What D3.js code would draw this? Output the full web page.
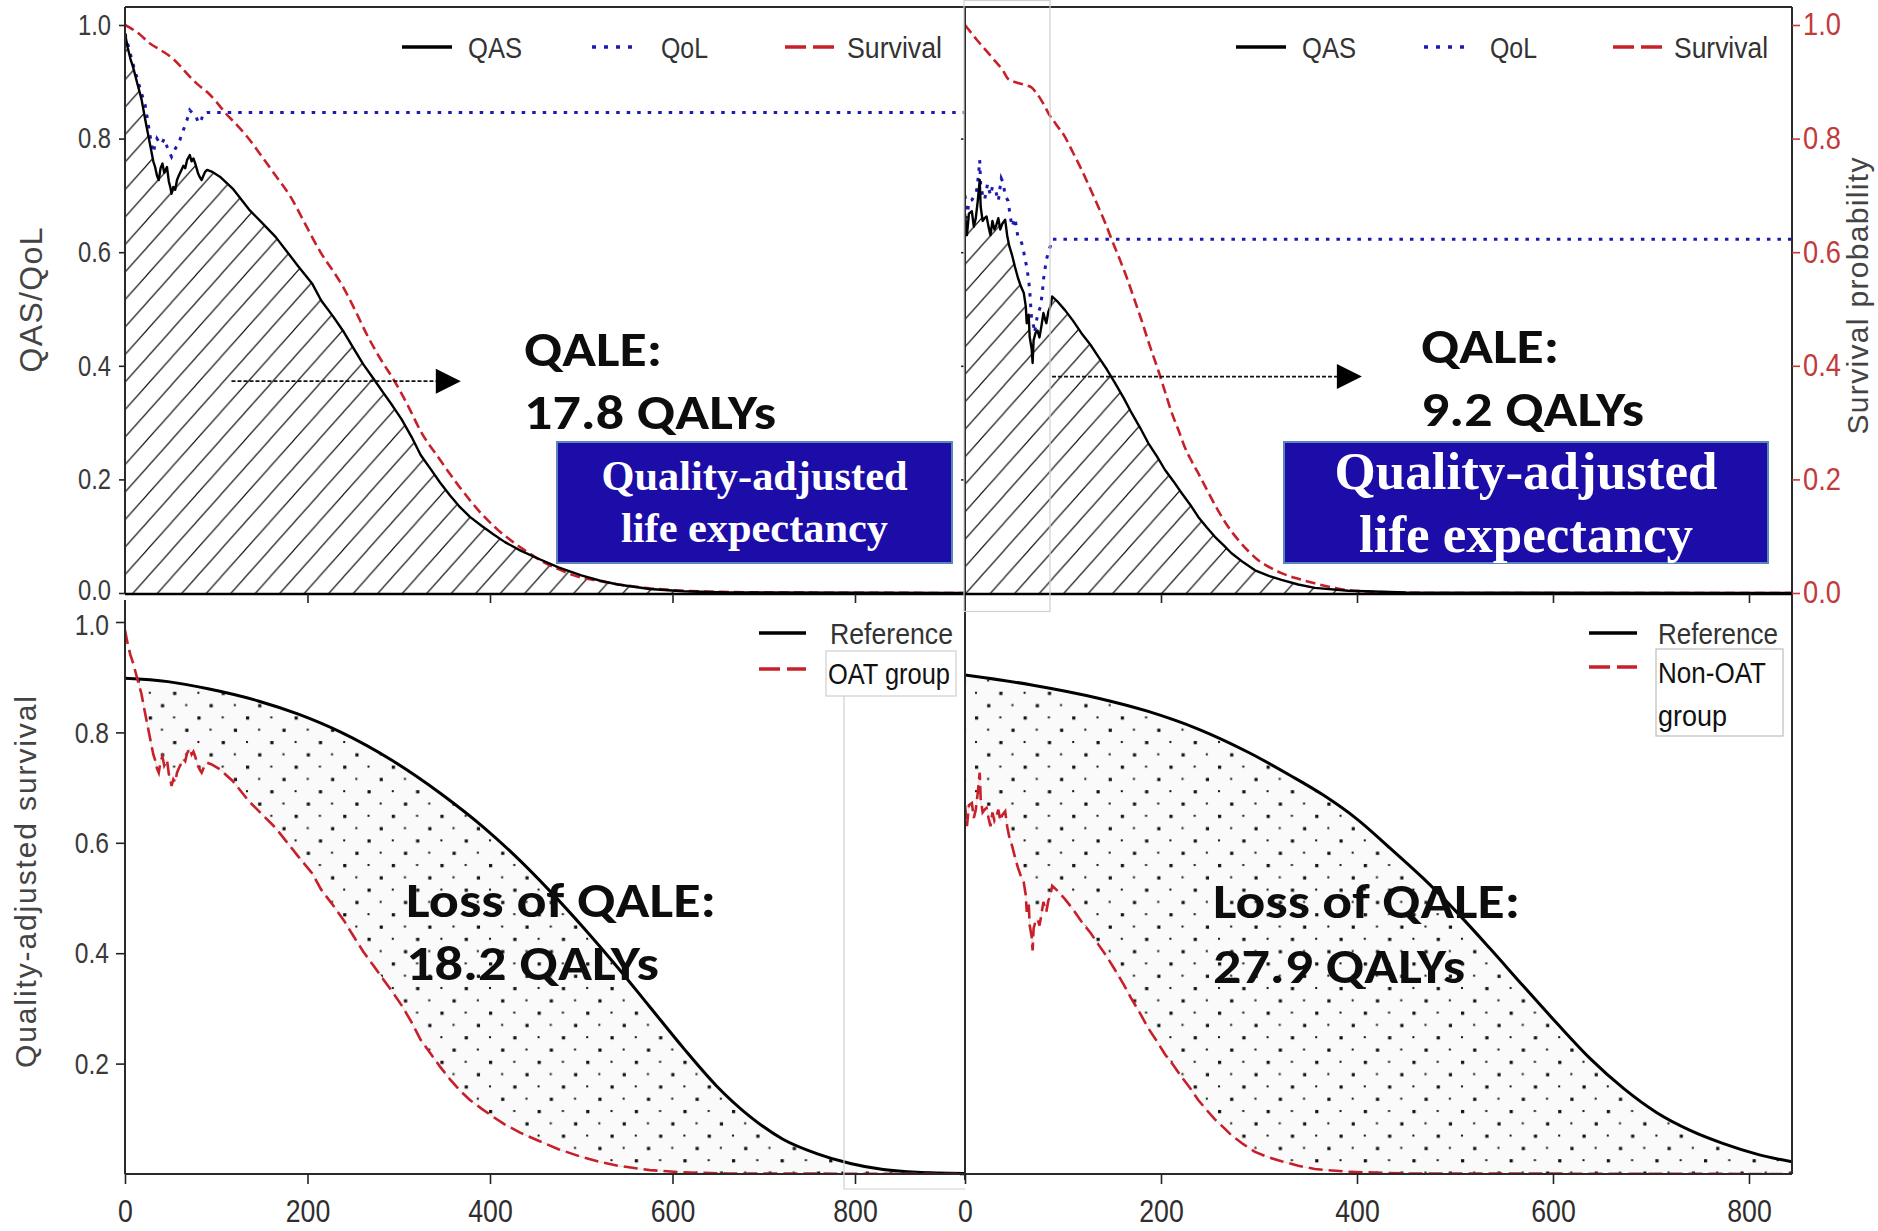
<!DOCTYPE html>
<html>
<head>
<meta charset="utf-8">
<script src="https://cdn.jsdelivr.net/npm/d3@7"></script>
<style>
  html, body { margin: 0; padding: 0; background: #fff; }
  svg { display: block; }
</style>
</head>
<body>
<svg id="chart" width="1878" height="1231"></svg>
<script>
// ---------- data: [time, value] ----------
// OAT group: quality-adjusted survival (QAS), quality of life (QoL), survival
const oatQAS = [[0,0.985],[3,0.96],[6,0.94],[9,0.925],[13,0.9],[18,0.87],[22,0.835],[25,0.81],[28,0.785],[31,0.76],[33,0.75],[35,0.735],[37,0.727],[39,0.748],[41,0.756],[43,0.74],[46,0.75],[48,0.725],[50,0.712],[51,0.703],[53,0.715],[55,0.71],[57,0.727],[59,0.735],[62,0.745],[64,0.752],[66,0.748],[68,0.762],[70,0.768],[71,0.771],[73,0.76],[75,0.765],[77,0.756],[79,0.745],[80,0.739],[82,0.732],[84,0.727],[86,0.735],[88,0.742],[90,0.745],[95,0.742],[104,0.733],[118,0.712],[136,0.675],[150,0.652],[165,0.627],[178,0.6],[190,0.575],[205,0.545],[215,0.515],[228,0.487],[240,0.459],[250,0.432],[261,0.403],[272,0.378],[282,0.355],[293,0.33],[303,0.306],[314,0.275],[324,0.243],[335,0.218],[345,0.195],[356,0.172],[366,0.153],[378,0.134],[391,0.118],[404,0.103],[416,0.09],[433,0.075],[450,0.0625],[475,0.045],[500,0.031],[520,0.022],[540,0.015],[575,0.007],[612,0.003],[660,0.001],[920,0]];
const oatQoL = [[0,0.985],[9,0.93],[18,0.88],[22,0.86],[25,0.83],[27,0.81],[29,0.79],[31,0.775],[33,0.79],[35,0.8],[37,0.795],[40,0.79],[43,0.8],[46,0.786],[49,0.775],[51,0.768],[53,0.775],[56,0.785],[60,0.797],[64,0.815],[68,0.833],[71,0.85],[74,0.845],[77,0.842],[80,0.83],[82,0.827],[84,0.835],[86,0.845],[90,0.846],[920,0.846]];
const oatSurvival = [[0,1],[15,0.985],[27,0.968],[40,0.955],[53,0.94],[62,0.925],[71,0.909],[80,0.895],[90,0.882],[100,0.865],[110,0.845],[122,0.825],[133,0.805],[148,0.773],[165,0.735],[182,0.696],[198,0.648],[215,0.598],[228,0.567],[240,0.536],[253,0.495],[266,0.452],[280,0.412],[295,0.374],[310,0.33],[324,0.285],[345,0.235],[366,0.188],[391,0.139],[408,0.112],[425,0.09],[442,0.071],[458,0.055],[475,0.042],[492,0.031],[520,0.021],[560,0.011],[600,0.005],[650,0.002],[700,0.001],[920,0]];

// Non-OAT group
const nonOatQAS = [[0,0.668],[2,0.63],[4,0.668],[7,0.672],[9,0.645],[11,0.66],[13,0.69],[15,0.727],[16,0.68],[18,0.655],[20,0.66],[22,0.663],[24,0.645],[26,0.63],[28,0.655],[30,0.64],[32,0.648],[34,0.66],[36,0.64],[38,0.65],[41,0.657],[43,0.63],[45,0.612],[48,0.595],[51,0.574],[54,0.555],[57,0.54],[60,0.528],[62,0.505],[63,0.475],[65,0.49],[66,0.451],[68,0.43],[69,0.405],[70,0.445],[72,0.458],[74,0.462],[76,0.45],[78,0.47],[80,0.493],[82,0.48],[83,0.475],[85,0.495],[87,0.504],[89,0.522],[95,0.512],[102,0.498],[110,0.48],[119,0.457],[128,0.437],[136,0.416],[145,0.393],[153,0.37],[162,0.343],[170,0.317],[179,0.29],[187,0.264],[196,0.24],[204,0.217],[213,0.196],[221,0.176],[230,0.155],[238,0.134],[247,0.115],[255,0.099],[264,0.084],[272,0.07],[284,0.054],[296,0.04],[310,0.03],[323,0.023],[340,0.015],[357,0.009],[391,0.004],[450,0.001],[844,0]];
const nonOatQoL = [[0,0.70],[2,0.66],[4,0.69],[7,0.692],[10,0.70],[12,0.71],[14,0.74],[15,0.762],[16,0.72],[18,0.70],[20,0.692],[23,0.72],[26,0.70],[28,0.715],[31,0.71],[34,0.69],[37,0.73],[39,0.722],[41,0.70],[44,0.69],[46,0.665],[48,0.645],[51,0.66],[54,0.627],[57,0.62],[59,0.61],[61,0.59],[63,0.574],[65,0.55],[66,0.533],[68,0.481],[70,0.47],[71,0.458],[74,0.49],[77,0.504],[79,0.53],[80,0.551],[83,0.586],[85,0.6],[87,0.61],[89,0.623],[844,0.623]];
const nonOatSurvival = [[0,1],[6,0.987],[12,0.974],[20,0.958],[29,0.94],[39,0.919],[44,0.905],[50,0.9],[56,0.897],[62,0.894],[68,0.89],[73,0.88],[77,0.87],[81,0.858],[85,0.845],[93,0.825],[102,0.803],[110,0.776],[119,0.745],[127,0.715],[136,0.68],[143,0.652],[150,0.621],[158,0.587],[166,0.551],[173,0.516],[180,0.481],[188,0.438],[197,0.393],[204,0.355],[211,0.317],[218,0.286],[224,0.258],[231,0.233],[238,0.211],[248,0.178],[258,0.146],[268,0.118],[279,0.093],[289,0.074],[299,0.058],[311,0.045],[323,0.035],[340,0.025],[357,0.017],[374,0.01],[391,0.005],[420,0.002],[480,0],[844,0]];

// Matched reference population, quality-adjusted survival
const refOAT = [[0,0.898],[47,0.892],[91,0.879],[146,0.857],[190,0.833],[237,0.8],[292,0.75],[347,0.688],[393,0.628],[429,0.574],[466,0.512],[502,0.447],[539,0.376],[575,0.303],[612,0.228],[648,0.16],[685,0.104],[721,0.063],[758,0.037],[795,0.019],[831,0.008],[868,0.003],[920,0.001]];
const refNonOAT = [[0,0.904],[68,0.886],[136,0.862],[187,0.838],[238,0.806],[289,0.764],[332,0.722],[366,0.686],[400,0.643],[434,0.59],[468,0.535],[502,0.474],[536,0.408],[570,0.34],[604,0.273],[638,0.209],[672,0.155],[706,0.111],[740,0.079],[774,0.055],[808,0.036],[844,0.022]];

// ticks and labels
const topYTicks = [0, 0.2, 0.4, 0.6, 0.8, 1.0];
const bottomYTicks = [0.2, 0.4, 0.6, 0.8, 1.0];
const xTicks = [0, 200, 400, 600, 800];
const qaleOAT = ["QALE:", "17.8 QALYs"];
const qaleNonOAT = ["QALE:", "9.2 QALYs"];
const lossOAT = ["Loss of QALE:", "18.2 QALYs"];
const lossNonOAT = ["Loss of QALE:", "27.9 QALYs"];
const boxText = ["Quality-adjusted", "life expectancy"];
const topLegend = ["QAS", "QoL", "Survival"];

// ---------- styling ----------
const RED = "#c8202a", BLUE = "#1b1bb0", AXIS_RED = "#c23b3b";
const SANS = "'Liberation Sans',Arial,sans-serif";
const BOLD = "Carlito,Lato,'Open Sans',sans-serif";
const SERIF = "'Liberation Serif','Times New Roman',serif";

const svg = d3.select("#chart");

// scales
const xL = d3.scaleLinear([0, 920], [125, 964.5]);
const xR = d3.scaleLinear([0, 844], [965, 1792.1]);
const yT = d3.scaleLinear([0, 1], [593, 25]);
const yB = d3.scaleLinear([0, 1], [1174, 622]);

// ---------- patterns ----------
const defs = svg.append("defs");
const hatch = defs.append("pattern").attr("id", "hatch")
  .attr("patternUnits", "userSpaceOnUse").attr("width", 24.5).attr("height", 27.5);
hatch.append("path")
  .attr("d", "M0,27.5 L24.5,0 M-4.9,5.5 L4.9,-5.5 M19.6,33 L29.4,22")
  .attr("stroke", "#111").attr("stroke-width", 1.15).attr("fill", "none");

const dots = defs.append("pattern").attr("id", "dots")
  .attr("patternUnits", "userSpaceOnUse").attr("width", 48.6).attr("height", 49.2);
dots.append("rect").attr("width", 48.6).attr("height", 49.2).attr("fill", "#fafafa");
[[0,0,2],[24.3,0,3.2],[12.15,12.3,3.2],[36.45,12.3,2],[0,24.6,3.2],[24.3,24.6,2],[12.15,36.9,2],[36.45,36.9,3.2]]
  .forEach(([x, y, s]) => dots.append("rect").attr("x", x + 3).attr("y", y + 3)
    .attr("width", s).attr("height", s).attr("fill", "#111"));

// clip regions for each panel
[["clipTL", 125, 7, 840, 588], ["clipTR", 965, 7, 827, 588],
 ["clipBL", 125, 600, 840, 575], ["clipBR", 965, 600, 827, 575]]
  .forEach(([id, x, y, w, h]) => defs.append("clipPath").attr("id", id)
    .append("rect").attr("x", x).attr("y", y).attr("width", w).attr("height", h));

// ---------- helpers ----------
const lineGen = (x, y, curve) => d3.line().x(d => x(d[0])).y(d => y(d[1])).curve(curve || d3.curveLinear);

function interp(arr, t) {
  if (t <= arr[0][0]) return arr[0][1];
  for (let i = 1; i < arr.length; i++) {
    if (t <= arr[i][0]) {
      const [t0, v0] = arr[i - 1], [t1, v1] = arr[i];
      return v0 + (v1 - v0) * (t - t0) / (t1 - t0);
    }
  }
  return arr[arr.length - 1][1];
}
function gapBand(ref, grp) {
  const ts = Array.from(new Set([...ref.map(d => d[0]), ...grp.map(d => d[0])])).sort((a, b) => a - b);
  return ts.map(t => { const r = interp(ref, t), g = interp(grp, t); return { t, hi: r, lo: Math.min(g, r) }; });
}

// squeeze text horizontally to a narrow face
function condense(sel, f) {
  sel.each(function () {
    const w = this.getComputedTextLength();
    d3.select(this).attr("textLength", w * f).attr("lengthAdjust", "spacingAndGlyphs");
  });
}
function styleAxis(g, size, color, tickColor, squeeze) {
  g.select(".domain").remove();
  g.selectAll(".tick line").attr("stroke", tickColor || "#222").attr("stroke-width", 1.6);
  const t = g.selectAll(".tick text").attr("font-family", SANS).attr("font-size", size).attr("fill", color);
  condense(t, squeeze || 0.82);
}

// ---------- top panels ----------
function topPanel(x, clip, qas, qol, surv) {
  const g = svg.append("g").attr("clip-path", `url(#${clip})`);
  g.append("path").datum(qas)
    .attr("d", d3.area().x(d => x(d[0])).y0(yT(0)).y1(d => yT(d[1])))
    .attr("fill", "url(#hatch)");
  g.append("path").datum(surv).attr("d", lineGen(x, yT, d3.curveMonotoneX))
    .attr("fill", "none").attr("stroke", RED).attr("stroke-width", 2.6).attr("stroke-dasharray", "10,5");
  g.append("path").datum(qol).attr("d", lineGen(x, yT))
    .attr("fill", "none").attr("stroke", BLUE).attr("stroke-width", 3).attr("stroke-dasharray", "3.5,7");
  g.append("path").datum(qas).attr("d", lineGen(x, yT))
    .attr("fill", "none").attr("stroke", "#000").attr("stroke-width", 2.4).attr("stroke-linejoin", "round");
}
topPanel(xL, "clipTL", oatQAS, oatQoL, oatSurvival);
topPanel(xR, "clipTR", nonOatQAS, nonOatQoL, nonOatSurvival);

// ---------- bottom panels ----------
function bottomPanel(x, clip, ref, grp) {
  const g = svg.append("g").attr("clip-path", `url(#${clip})`);
  g.append("path").datum(gapBand(ref, grp))
    .attr("d", d3.area().x(d => x(d.t)).y0(d => yB(d.lo)).y1(d => yB(d.hi)).curve(d3.curveMonotoneX))
    .attr("fill", "url(#dots)").attr("stroke", "#e2e2e2").attr("stroke-width", 1);
  g.append("path").datum(ref).attr("d", lineGen(x, yB, d3.curveMonotoneX))
    .attr("fill", "none").attr("stroke", "#000").attr("stroke-width", 3);
  g.append("path").datum(grp).attr("d", lineGen(x, yB))
    .attr("fill", "none").attr("stroke", RED).attr("stroke-width", 2.6).attr("stroke-dasharray", "14,6");
}
bottomPanel(xL, "clipBL", refOAT, oatQAS);
bottomPanel(xR, "clipBR", refNonOAT, nonOatQAS);

// ---------- frames and axes ----------
const frame = svg.append("g").attr("stroke", "#2a2a2a").attr("fill", "none");
frame.append("line").attr("x1", 125).attr("y1", 7).attr("x2", 1792).attr("y2", 7).attr("stroke-width", 2);
frame.append("line").attr("x1", 125).attr("y1", 7).attr("x2", 125).attr("y2", 594).attr("stroke-width", 2);
frame.append("line").attr("x1", 965).attr("y1", 7).attr("x2", 965).attr("y2", 1180).attr("stroke-width", 2);
frame.append("line").attr("x1", 1792).attr("y1", 7).attr("x2", 1792).attr("y2", 1174).attr("stroke-width", 2);
frame.append("line").attr("x1", 125).attr("y1", 600).attr("x2", 125).attr("y2", 1174).attr("stroke-width", 2);
frame.append("line").attr("x1", 125).attr("y1", 594).attr("x2", 1792).attr("y2", 594).attr("stroke", "#000").attr("stroke-width", 2.6);
frame.append("line").attr("x1", 125).attr("y1", 1174).attr("x2", 1792).attr("y2", 1174).attr("stroke-width", 2.2);

// top-left y axis
svg.append("g").attr("transform", "translate(125,0)")
  .call(d3.axisLeft(yT).tickValues(topYTicks).tickFormat(d3.format(".1f")).tickSize(6).tickPadding(8))
  .call(g => styleAxis(g, 29, "#3a3a3a"))
  .call(g => g.selectAll(".tick text").filter(d => d === 0).attr("dy", "0.22em"));
// top-right: left ticks and red survival axis on the right
svg.append("g").attr("transform", "translate(965,0)")
  .call(d3.axisLeft(yT).tickValues([0.2, 0.4, 0.6, 0.8]).tickFormat("").tickSize(4))
  .call(g => styleAxis(g, 30, "#3a3a3a"));
svg.append("g").attr("transform", "translate(1792,0)")
  .call(d3.axisRight(yT).tickValues(topYTicks).tickFormat(d3.format(".1f")).tickSize(8).tickPadding(3))
  .call(g => styleAxis(g, 31, AXIS_RED, AXIS_RED, 0.88));
// top x ticks (no labels)
svg.append("g").attr("transform", "translate(0,594)")
  .call(d3.axisBottom(xL).tickValues(xTicks.slice(1)).tickFormat("").tickSize(9))
  .call(g => styleAxis(g, 30, "#333"));
svg.append("g").attr("transform", "translate(0,594)")
  .call(d3.axisBottom(xR).tickValues(xTicks.slice(1)).tickFormat("").tickSize(9))
  .call(g => styleAxis(g, 30, "#333"));
// bottom-left y axis
svg.append("g").attr("transform", "translate(125,0)")
  .call(d3.axisLeft(yB).tickValues(bottomYTicks).tickFormat(d3.format(".1f")).tickSize(9).tickPadding(7))
  .call(g => styleAxis(g, 30, "#3a3a3a"))
  .call(g => g.selectAll(".tick text").filter(d => d === 1).attr("dy", "0.42em"));
svg.append("g").attr("transform", "translate(965,0)")
  .call(d3.axisLeft(yB).tickValues([0]).tickFormat("").tickSize(5))
  .call(g => styleAxis(g, 31, "#3a3a3a"));
// bottom x axes
svg.append("g").attr("transform", "translate(0,1174)")
  .call(d3.axisBottom(xL).tickValues(xTicks).tickFormat(d3.format("d")).tickSize(10).tickPadding(16))
  .call(g => styleAxis(g, 31, "#2e2e2e", null, 0.86));
svg.append("g").attr("transform", "translate(0,1174)")
  .call(d3.axisBottom(xR).tickValues(xTicks).tickFormat(d3.format("d")).tickSize(10).tickPadding(16))
  .call(g => styleAxis(g, 31, "#2e2e2e", null, 0.86));

// axis titles
function vTitle(txt, x, y, len, size) {
  svg.append("text").attr("transform", `translate(${x},${y}) rotate(-90)`)
    .attr("text-anchor", "middle").attr("font-family", SANS).attr("font-size", size)
    .attr("fill", "#444").attr("textLength", len).text(txt);
}
vTitle("QAS/QoL", 42, 300, 145, 32);
vTitle("Quality-adjusted survival", 36, 882, 372, 30);
vTitle("Survival probability", 1868, 296, 277, 30);

// ---------- annotations ----------
function arrow(x, t0, t1, v) {
  const y = yT(v), xa = x(t0), xb = x(t1);
  svg.append("line").attr("x1", xa).attr("y1", y).attr("x2", xb - 24).attr("y2", y)
    .attr("stroke", "#111").attr("stroke-width", 1.8).attr("stroke-dasharray", "4,2");
  svg.append("path").attr("d", `M${xb - 25},${y - 12.5} L${xb},${y} L${xb - 25},${y + 12.5} Z`).attr("fill", "#000");
}
arrow(xL, 116.7, 368, 0.373);
arrow(xR, 88.8, 405, 0.381);

function bigText(lines, x, ys, lens, size) {
  lines.forEach((s, i) => svg.append("text").attr("x", x).attr("y", ys[i])
    .attr("font-family", BOLD).attr("font-weight", 700).attr("font-size", size).attr("fill", "#0d0d0d")
    .attr("textLength", lens[i]).attr("lengthAdjust", "spacingAndGlyphs").text(s));
}
bigText(qaleOAT, 524, [366, 429], [138, 252], 48);
bigText(qaleNonOAT, 1421, [363, 426], [138, 223], 48);
bigText(lossOAT, 406, [917, 980], [310, 253], 48);
bigText(lossNonOAT, 1213, [918, 983], [307, 252], 48);

function blueBox(x, y, w, h, size, ys, lens) {
  svg.append("rect").attr("x", x).attr("y", y).attr("width", w).attr("height", h)
    .attr("fill", "#1c0ca8").attr("stroke", "#5b86b8").attr("stroke-width", 2);
  boxText.forEach((s, i) => svg.append("text").attr("x", x + w / 2).attr("y", ys[i])
    .attr("text-anchor", "middle").attr("font-family", SERIF).attr("font-weight", 700)
    .attr("font-size", size).attr("fill", "#fff")
    .attr("textLength", lens[i]).attr("lengthAdjust", "spacingAndGlyphs").text(s));
}
blueBox(557, 442, 395, 121, 42, [490, 542], [306, 267]);
blueBox(1284, 442, 484, 121, 53, [489, 552], [383, 334]);

// ---------- legends ----------
function legendItem(x1, x2, y, kind, labels, tx, ty, lens, dark) {
  const ln = svg.append("line").attr("x1", x1).attr("x2", x2).attr("y1", y).attr("y2", y);
  if (kind === "solid") ln.attr("stroke", "#000").attr("stroke-width", 3.5);
  if (kind === "dot") ln.attr("stroke", BLUE).attr("stroke-width", 3.5).attr("stroke-dasharray", "4,8");
  if (kind === "dash") ln.attr("stroke", RED).attr("stroke-width", 3.5).attr("stroke-dasharray", "21,7");
  [].concat(labels).forEach((s, i) => svg.append("text").attr("x", tx).attr("y", (ty || y) + i * 43)
    .attr("dy", "0.35em").attr("font-family", SANS).attr("font-size", 30)
    .attr("fill", dark ? "#111" : "#333")
    .attr("textLength", lens[i]).attr("lengthAdjust", "spacingAndGlyphs").text(s));
}
legendItem(402, 452, 47, "solid", topLegend[0], 468, null, [54]);
legendItem(592, 636, 47, "dot", topLegend[1], 661, null, [47]);
legendItem(785, 835, 47, "dash", topLegend[2], 847, null, [95]);
legendItem(1236, 1286, 47, "solid", topLegend[0], 1302, null, [54]);
legendItem(1424, 1466, 47, "dot", topLegend[1], 1490, null, [47]);
legendItem(1613, 1664, 47, "dash", topLegend[2], 1674, null, [94]);

// bottom legends, with the faint frames around the group entries
const faint = svg.append("g").attr("fill", "none").attr("stroke", "#cfcfcf").attr("stroke-width", 1.2);
faint.append("rect").attr("x", 964).attr("y", 0.5).attr("width", 86).attr("height", 611);
faint.append("rect").attr("x", 826).attr("y", 651).attr("width", 130).attr("height", 45);
faint.append("path").attr("d", "M844,696 L844,1189 L965,1189");
faint.append("rect").attr("x", 1656).attr("y", 649).attr("width", 127).attr("height", 87).attr("stroke", "#bdbdbd");

legendItem(759, 806, 633, "solid", "Reference", 830, null, [123]);
legendItem(759, 806, 669, "dash", "OAT group", 828, 673, [122], true);
legendItem(1589, 1637, 633, "solid", "Reference", 1658, null, [120]);
legendItem(1589, 1637, 667, "dash", ["Non-OAT", "group"], 1658, 672, [108, 69], true);
</script>
</body>
</html>
